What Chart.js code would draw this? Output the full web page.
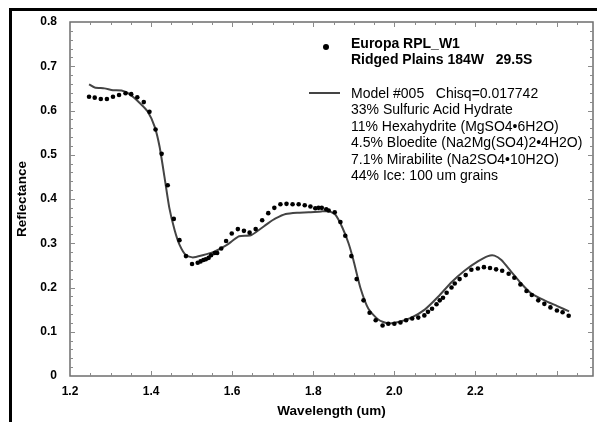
<!DOCTYPE html>
<html>
<head>
<meta charset="utf-8">
<script src="https://cdn.jsdelivr.net/npm/chart.js@4/dist/chart.umd.min.js"></script>
<style>
    body { margin: 0; background: #fff; overflow: hidden; }
    #page { position: relative; width: 597px; height: 422px; overflow: hidden; }
    #caption { position: absolute; left: 22px; top: -25px; font: 22px "Liberation Serif", serif; color: #000; white-space: nowrap; }
    #frame { position: absolute; left: 9px; top: 8px; width: 600px; height: 420px; border-left: 3px solid #000; border-top: 3px solid #000; }
    #chart { position: absolute; left: 0; top: 0; }
    .leg { position: absolute; font-family: "Liberation Sans", Arial, sans-serif; font-size: 14px; color: #000; white-space: pre; }
    #legObs { left: 351px; top: 35px; line-height: 16px; font-weight: bold; }
    #legModel { left: 351px; top: 85px; line-height: 16.4px; }
    #dot { position: absolute; left: 323px; top: 44px; width: 6px; height: 6px; border-radius: 50%; background: #000; }
    #dash { position: absolute; left: 309px; top: 92px; width: 31px; height: 2px; background: #444; }
</style>
</head>
<body>
<div id="page">
    <div id="caption">Spectrum compared against a linear mixing model fit using grains</div>
    <div id="frame"></div>
    <canvas id="chart" width="597" height="422"></canvas>
    <div id="dot"></div>
    <div class="leg" id="legObs">Europa RPL_W1
Ridged Plains 184W   29.5S</div>
    <div id="dash"></div>
    <div class="leg" id="legModel">Model #005   Chisq=0.017742
33% Sulfuric Acid Hydrate
11% Hexahydrite (MgSO4•6H2O)
4.5% Bloedite (Na2Mg(SO4)2•4H2O)
7.1% Mirabilite (Na2SO4•10H2O)
44% Ice: 100 um grains</div>
</div>
<script>
// observed spectrum (dots)
const obsWave = [
    1.247, 1.261, 1.276, 1.291, 1.306, 1.321, 1.337, 1.351, 1.366, 1.382,
    1.396, 1.411, 1.426, 1.441, 1.456, 1.470, 1.486, 1.501, 1.515, 1.522,
    1.529, 1.535, 1.542, 1.548, 1.557, 1.563, 1.573, 1.585, 1.599, 1.614,
    1.629, 1.643, 1.658, 1.674, 1.689, 1.704, 1.719, 1.734, 1.749, 1.764,
    1.779, 1.793, 1.805, 1.813, 1.821, 1.832, 1.838, 1.853, 1.867, 1.879,
    1.894, 1.907, 1.924, 1.939, 1.954, 1.971, 1.985, 2.000, 2.015, 2.029,
    2.044, 2.059, 2.074, 2.083, 2.093, 2.104, 2.112, 2.120, 2.129, 2.141,
    2.149, 2.161, 2.176, 2.190, 2.206, 2.221, 2.236, 2.251, 2.266, 2.282,
    2.296, 2.311, 2.326, 2.339, 2.355, 2.370, 2.385, 2.401, 2.415, 2.430
];
const obsRefl = [
    0.631, 0.629, 0.626, 0.626, 0.631, 0.635, 0.639, 0.637, 0.630, 0.619,
    0.597, 0.557, 0.502, 0.431, 0.355, 0.307, 0.271, 0.253, 0.256, 0.259,
    0.262, 0.264, 0.267, 0.273, 0.278, 0.278, 0.288, 0.305, 0.322, 0.332,
    0.328, 0.324, 0.332, 0.352, 0.368, 0.380, 0.388, 0.389, 0.388, 0.388,
    0.386, 0.383, 0.379, 0.380, 0.380, 0.377, 0.374, 0.370, 0.348, 0.317,
    0.271, 0.219, 0.171, 0.143, 0.126, 0.114, 0.118, 0.118, 0.121, 0.126,
    0.130, 0.132, 0.137, 0.145, 0.152, 0.162, 0.171, 0.177, 0.188, 0.200,
    0.209, 0.219, 0.228, 0.240, 0.243, 0.246, 0.244, 0.241, 0.238, 0.231,
    0.222, 0.207, 0.192, 0.183, 0.171, 0.163, 0.155, 0.148, 0.144, 0.136
];

// model #005 (line)
const modelWave = [
    1.247, 1.261, 1.285, 1.306, 1.327, 1.347, 1.372, 1.392, 1.409, 1.421,
    1.433, 1.445, 1.458, 1.470, 1.486, 1.503, 1.527, 1.556, 1.585, 1.600,
    1.617, 1.646, 1.666, 1.690, 1.707, 1.732, 1.760, 1.789, 1.820, 1.840,
    1.855, 1.872, 1.887, 1.899, 1.916, 1.936, 1.961, 1.985, 2.010, 2.042,
    2.075, 2.108, 2.141, 2.173, 2.206, 2.231, 2.247, 2.264, 2.288, 2.313,
    2.337, 2.370, 2.402, 2.431
];
const modelRefl = [
    0.659, 0.652, 0.650, 0.646, 0.645, 0.637, 0.617, 0.597, 0.563, 0.518,
    0.450, 0.380, 0.330, 0.297, 0.273, 0.268, 0.273, 0.281, 0.295, 0.305,
    0.316, 0.318, 0.330, 0.346, 0.356, 0.366, 0.369, 0.370, 0.372, 0.372,
    0.364, 0.335, 0.300, 0.262, 0.200, 0.152, 0.127, 0.119, 0.122, 0.132,
    0.150, 0.179, 0.212, 0.238, 0.259, 0.271, 0.272, 0.262, 0.236, 0.209,
    0.187, 0.171, 0.158, 0.146
];

const xMin = 1.2, xMax = 2.49, xStep = 0.2, xMinor = 0.05;
const yMin = 0, yMax = 0.8, yStep = 0.1, yMinor = 0.02;

function toPoints(xs, ys) {
    return xs.map((x, i) => ({ x: x, y: ys[i] }));
}

// box round the plot with inward ticks on all four sides
const frameTicks = {
    id: 'frameTicks',
    beforeDatasetsDraw(chart) {
        const ctx = chart.ctx;
        const a = chart.chartArea;
        const xs = chart.scales.x, ys = chart.scales.y;
        ctx.save();
        ctx.strokeStyle = '#6e6e6e';
        ctx.lineWidth = 1.5;
        ctx.strokeRect(a.left, a.top, a.right - a.left, a.bottom - a.top);
        ctx.lineWidth = 1;
        ctx.strokeStyle = '#8a8a8a';
        ctx.beginPath();
        const nx = Math.round((xMax - xMin) / xMinor);
        for (let i = 1; i <= nx; i++) {
            const px = Math.round(xs.getPixelForValue(xMin + i * xMinor)) + 0.5;
            const len = i % 4 === 0 ? 5 : 3;
            ctx.moveTo(px, a.bottom); ctx.lineTo(px, a.bottom - len);
            ctx.moveTo(px, a.top); ctx.lineTo(px, a.top + len);
        }
        const ny = Math.round((yMax - yMin) / yMinor);
        for (let i = 1; i < ny; i++) {
            const py = Math.round(ys.getPixelForValue(yMin + i * yMinor)) + 0.5;
            const len = i % 5 === 0 ? 5 : 3;
            ctx.moveTo(a.left, py); ctx.lineTo(a.left + len, py);
            ctx.moveTo(a.right, py); ctx.lineTo(a.right - len, py);
        }
        ctx.stroke();
        ctx.restore();
    }
};

const tickFont = { family: '"Liberation Sans", Arial, sans-serif', size: 12, weight: 'bold' };
const titleFont = { family: '"Liberation Sans", Arial, sans-serif', size: 13.5, weight: 'bold' };

new Chart(document.getElementById('chart'), {
    type: 'scatter',
    data: {
        datasets: [
            {
                label: 'Europa RPL_W1',
                data: toPoints(obsWave, obsRefl),
                showLine: false,
                pointRadius: 2.3,
                pointBackgroundColor: '#000',
                pointBorderWidth: 0
            },
            {
                label: 'Model #005',
                data: toPoints(modelWave, modelRefl),
                showLine: true,
                borderColor: '#444',
                borderWidth: 2,
                pointRadius: 0,
                tension: 0.2,
                fill: false
            }
        ]
    },
    options: {
        responsive: false,
        devicePixelRatio: 1,
        animation: false,
        layout: { padding: { left: 10, top: 22, right: 1, bottom: 0 } },
        plugins: {
            legend: { display: false },
            tooltip: { enabled: false }
        },
        scales: {
            x: {
                type: 'linear',
                min: xMin,
                max: xMax,
                grid: { display: false, drawTicks: false },
                border: { display: false },
                ticks: { stepSize: xStep, font: tickFont, color: '#000', padding: 8, maxRotation: 0 },
                afterBuildTicks: (s) => { s.ticks = s.ticks.filter(t => t.value <= 2.4001); },
                afterFit: (s) => { s.height = 46; },
                title: { display: true, text: 'Wavelength (um)', font: titleFont, color: '#000', padding: { top: 4, bottom: 3 } }
            },
            y: {
                type: 'linear',
                min: yMin,
                max: yMax,
                grid: { display: false, drawTicks: false },
                border: { display: false },
                ticks: { stepSize: yStep, font: tickFont, color: '#000', padding: 13 },
                afterFit: (s) => { s.width = 60; },
                title: { display: true, text: 'Reflectance', font: titleFont, color: '#000', padding: { top: 4, bottom: 4 } }
            }
        }
    },
    plugins: [frameTicks]
});
</script>
</body>
</html>
